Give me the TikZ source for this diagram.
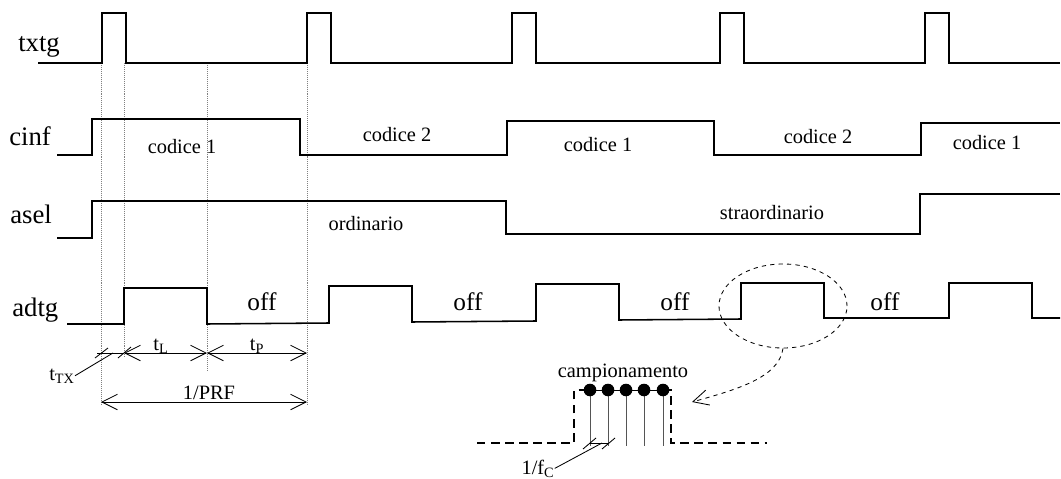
\documentclass[tikz,border=0pt]{standalone}
\usepackage{fontspec}
\setmainfont{Liberation Serif}
\usetikzlibrary{shapes.geometric, arrows.meta, positioning, calc}
\definecolor{cLine}{HTML}{000000}
\definecolor{cGuide}{HTML}{808080}
\definecolor{cStem}{HTML}{555555}

\begin{document}
\begin{tikzpicture}[
  x=0.025cm, y=-0.025cm,
  sig/.style={draw=cLine, line width=1.1pt},
  guide/.style={draw=cGuide, densely dotted, line width=0.4pt},
  dimline/.style={draw=cLine, line width=0.6pt,
    {Straight Barb[length=11pt,width=11pt]}-{Straight Barb[length=11pt,width=11pt]}},
  thin/.style={draw=cLine, line width=0.6pt},
  signame/.style={anchor=base west, inner sep=0pt, font=\fontsize{19}{19}\selectfont},
  lbl/.style={anchor=base, inner sep=0pt, font=\fontsize{14.5}{14.5}\selectfont},
  offlbl/.style={anchor=base, inner sep=0pt, font=\fontsize{18}{18}\selectfont},
  dashsig/.style={draw=cLine, line width=1.1pt, dash pattern=on 6pt off 4pt}
]
  \useasboundingbox (0,0) rectangle (1061,479);

  % signal names
  \node[signame] (txtg) at (18,52) {txtg};
  \node[signame] (cinf) at (9,146) {cinf};
  \node[signame] (asel) at (10,224) {asel};
  \node[signame] (adtg) at (12,316) {adtg};

  % guides
  \draw[guide] (101,63) -- (101,405);
  \draw[guide] (124,63) -- (124,357);
  \draw[guide] (207,63) -- (207,372);
  \draw[guide] (307,63) -- (307,404);

  % txtg
  \draw[sig] (38,63) foreach \x in {102,307,512,720,925} {
    -- (\x,63) -- (\x,13) -- (\x+24,13) -- (\x+24,63) } -- (1060,63);

  % cinf
  \draw[sig] (57,155) -- (92,155) -- (92,119) -- (300,119) -- (300,155)
    -- (507,155) -- (507,121) -- (714,121) -- (714,155) -- (921,155)
    -- (921,123) -- (1060,123);
  \node[lbl] (c1a) at (182,153) {codice 1};
  \node[lbl] (c2a) at (397,142) {codice 2};
  \node[lbl] (c1b) at (598,151) {codice 1};
  \node[lbl] (c2b) at (818,144) {codice 2};
  \node[lbl] (c1c) at (987,150) {codice 1};

  % asel
  \draw[sig] (57,238) -- (92,238) -- (92,201) -- (506,201) -- (506,234)
    -- (920,234) -- (920,194) -- (1060,194);
  \node[lbl] (ord) at (366,230) {ordinario};
  \node[lbl] (straord) at (772,220) {straordinario};

  % adtg
  \draw[sig] (67,324) -- (124,324) -- (124,288) -- (207,288) -- (207,324)
    -- (329,323) -- (329,286) -- (412,286) -- (412,322)
    -- (536,321) -- (536,284) -- (619,284) -- (619,320)
    -- (741,319) -- (741,283) -- (824,283) -- (824,318)
    -- (949,318) -- (949,283) -- (1032,283) -- (1032,318) -- (1060,318);
  \node[offlbl] (off1) at (262,310) {off};
  \node[offlbl] (off2) at (468,310) {off};
  \node[offlbl] (off3) at (675,310) {off};
  \node[offlbl] (off4) at (885,310) {off};

  % time intervals
  \coordinate (tLa) at (124,353);
  \coordinate (tLb) at (207,353);
  \coordinate (tPb) at (307,353);
  \coordinate (prfA) at (101,402);
  \coordinate (prfB) at (307,402);
  \coordinate (txA) at (97,353);
  \coordinate (txPt) at (113,353);
  \draw[dimline] (tLa) -- (tLb);
  \draw[dimline] (tLb) -- (tPb);
  \draw[dimline] (prfA) -- (prfB);
  \draw[thin] (txA) -- (tLa);
  \draw[thin] (95,358) -- (108,348);
  \draw[thin] (118,358) -- (131,347);
  \node[lbl] (tL) at (161,350) {t\textsubscript{L}};
  \node[lbl] (tP) at (257,350) {t\textsubscript{P}};
  \node[lbl] (prf) at (209,399) {1/PRF};
  \node[lbl] (tTX) at (62,380) {t\textsubscript{TX}};
  \draw[thin] (tTX.east) -- (txPt);

  % zoom on one window
  \node[ellipse, draw=cLine, dashed, line width=0.6pt, inner sep=0pt,
    minimum width=3.2cm, minimum height=2.1cm] (zoomarea) at (783,306) {};
  \coordinate (insetR) at (692,402);
  \draw[thin, dashed, -{Straight Barb[length=11pt,width=11pt]}]
    (zoomarea.south) .. controls (779,378) and (735,390) .. (insetR);

  % sampling inset
  \draw[dashsig] (477,443) -- (574,443) -- (574,390) -- (590,390);
  \draw[dashsig] (663,390) -- (671,390) -- (671,443) -- (767,443);
  \draw[thin] (590,390) -- (663,390);
  \foreach \x in {590,608,626,644,663} {
    \draw[draw=cStem, line width=0.7pt] (\x,390) -- (\x,446);
    \fill[cLine] (\x,390) circle[radius=6.3];
  }
  \node[lbl] (camp) at (623,377) {campionamento};
  \coordinate (fcA) at (590,443);
  \coordinate (fcB) at (608,443);
  \coordinate (fcPt) at (602,443);
  \draw[thin] (fcA) -- (fcB);
  \draw[thin] (583,449) -- (596,438);
  \draw[thin] (602,449) -- (615,438);
  \node[lbl] (fc) at (538,474) {1/f\textsubscript{C}};
  \draw[thin] (fc.east) -- (fcPt);
\end{tikzpicture}
\end{document}
